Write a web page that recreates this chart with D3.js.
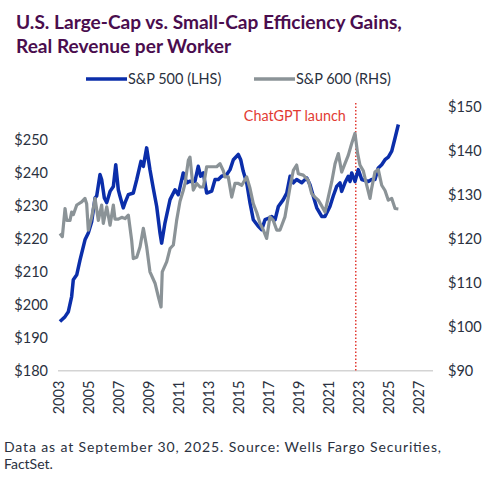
<!DOCTYPE html>
<html><head><meta charset="utf-8">
<script src="https://cdn.jsdelivr.net/npm/d3@7"></script>
<style>body{margin:0;background:#fff}svg{display:block}text{font-family:Lato,"Open Sans",sans-serif}</style>
</head><body>
<svg id="c" width="487" height="480"></svg>
<script>
const titleLines = ["U.S. Large-Cap vs. Small-Cap Efficiency Gains,", "Real Revenue per Worker"];
const seriesNames = ["S&P 500 (LHS)", "S&P 600 (RHS)"];
const footLines = ["Data as at September 30, 2025. Source: Wells Fargo Securities,", "FactSet."];
const eventLabel = "ChatGPT launch";
const eventDate = 2022.85;
const xTicks = [2003,2005,2007,2009,2011,2013,2015,2017,2019,2021,2023,2025,2027];
const leftTicks = [180,190,200,210,220,230,240,250];
const rightTicks = [90,100,110,120,130,140,150];

const sp500Dates = [2003.13,2003.47,2003.69,2003.91,2004.02,2004.25,2004.47,2004.8,2005.02,2005.25,2005.47,2005.58,2005.8,2005.91,2006.09,2006.25,2006.47,2006.69,2006.85,2007.02,2007.13,2007.35,2007.47,2007.69,2008.02,2008.25,2008.53,2008.69,2008.91,2009.13,2009.35,2009.58,2009.8,2009.91,2010.13,2010.47,2010.8,2011.02,2011.35,2011.58,2011.8,2012.13,2012.35,2012.51,2012.69,2012.91,2013.25,2013.47,2013.69,2013.91,2014.25,2014.47,2014.69,2015.02,2015.18,2015.35,2015.58,2015.8,2016.02,2016.35,2016.58,2016.8,2017.02,2017.25,2017.47,2017.69,2018.02,2018.25,2018.47,2018.69,2018.91,2019.25,2019.58,2019.8,2020.02,2020.25,2020.58,2020.8,2021.13,2021.35,2021.58,2021.8,2021.91,2022.13,2022.35,2022.47,2022.58,2022.8,2023.02,2023.25,2023.69,2023.91,2024.13,2024.35,2024.58,2024.8,2025.02,2025.25,2025.47,2025.69];
const sp500Values = [194.9,196.4,197.9,202.5,207.6,209.1,213.6,219.7,221.8,225.3,232.4,233,239.5,238,232.4,231,234.4,235.9,242.5,234.9,233,229.4,231,233.4,233.9,238,243.5,242,247.6,241,235.4,229.8,221.8,218.7,224.8,231.9,234.9,233.4,240,237,237.5,237.4,242,239,240,233.9,234.5,238,238,239,239.5,241,244,245.6,244,240.5,237,230.9,225.8,223.8,222.8,225.8,226.2,226.8,225.8,229.8,231.9,233.9,239,237,238,237,238.5,236.4,232.9,229.4,226.8,226.8,229.8,233,235.9,237,234.4,237,239,237.4,240,237.4,241,238,237.4,238,238,241.5,242.5,244,244.8,246.6,250.6,254.7];

const sp600Dates = [2003.13,2003.29,2003.47,2003.58,2003.8,2003.91,2004.02,2004.25,2004.58,2004.8,2004.91,2005.02,2005.25,2005.47,2005.69,2005.91,2006.02,2006.25,2006.47,2006.69,2006.8,2007.02,2007.25,2007.47,2007.69,2007.91,2008.02,2008.25,2008.47,2008.69,2008.91,2009.13,2009.47,2009.69,2009.87,2009.95,2010.25,2010.47,2010.69,2010.91,2011.13,2011.35,2011.47,2011.69,2011.8,2012.02,2012.25,2012.47,2012.69,2012.91,2013.25,2013.58,2013.8,2014.02,2014.13,2014.35,2014.58,2014.8,2015.02,2015.25,2015.58,2015.8,2016.02,2016.25,2016.47,2016.69,2016.91,2017.13,2017.35,2017.58,2017.8,2018.13,2018.47,2018.69,2018.91,2019.02,2019.35,2019.69,2019.91,2020.13,2020.35,2020.58,2020.8,2021.02,2021.25,2021.47,2021.69,2021.91,2022.13,2022.35,2022.58,2022.8,2022.97,2023.13,2023.35,2023.58,2023.8,2023.91,2024.13,2024.35,2024.58,2024.8,2025.02,2025.25,2025.47,2025.69];
const sp600Values = [121.2,120.5,126.9,124.2,124.2,126.1,125.5,127.7,128.4,129.2,128,122,125,129.2,124.2,127.7,123.5,127.3,123.1,127.7,124.5,124.5,124.9,124.6,125.4,119.7,115.5,115.8,118.2,122.4,118.2,112.5,109.9,106.8,104.5,112.5,114.8,117.8,118.6,124.2,128.5,131,132.6,137.9,138.6,131.1,132.6,131.8,131.8,136.4,136.4,136.4,137.1,135.5,134.1,134.1,129.5,132.6,132.6,132.2,134.1,131.5,128,126,123.5,122,120.1,125,124.2,122,122,125,131.8,135.6,136.8,134.8,134.5,133.3,130.3,129.5,128.8,127.5,126.1,129.5,133,137.1,139.4,135.2,137.1,139,141.7,144,139.5,136.8,135.5,132.2,129.2,131.5,135.2,135.8,132.2,131,128.8,129.2,126.9,126.8];

const colors = {blue:"#0b2eaa", gray:"#8b9397", title:"#4a0d4e", text:"#2a3140", red:"#e23b33", axis:"#d4d4d4"};

const svg = d3.select("#c");
const x = d3.scaleLinear().domain([2003, 2028]).range([58, 433]);
const yL = d3.scaleLinear().domain([180, 260]).range([370.7, 107]);
const yR = d3.scaleLinear().domain([90, 150]).range([370.7, 107]);

function fit(sel, w){ const n=sel.node(); const cur=n.getComputedTextLength(); const fs=parseFloat(sel.attr("font-size")); sel.attr("font-size", fs*w/cur); }

// Title
const titleSel = titleLines.map((t,i)=> svg.append("text").attr("x",16).attr("y",29+i*24).attr("font-size",19).attr("font-weight",700).attr("fill",colors.title).text(t));
fit(titleSel[0], 386);
titleSel[1].attr("font-size", titleSel[0].attr("font-size"));

// Legend
const leg = [{n:seriesNames[0], c:colors.blue, x0:86}, {n:seriesNames[1], c:colors.gray, x0:254}];
leg.forEach(l=>{
  svg.append("line").attr("x1",l.x0).attr("x2",l.x0+41).attr("y1",79).attr("y2",79).attr("stroke",l.c).attr("stroke-width",3.5);
  svg.append("text").attr("x",l.x0+42).attr("y",84).attr("font-size",14.5).attr("fill",colors.text).text(l.n);
});

// Baseline
svg.append("line").attr("x1",58).attr("x2",433).attr("y1",yL(180)).attr("y2",yL(180)).attr("stroke",colors.axis).attr("stroke-width",1.5);

// Left axis
const gL = svg.append("g").attr("transform","translate(48,0)")
  .call(d3.axisLeft(yL).tickValues(leftTicks).tickSize(0).tickPadding(0).tickFormat(d=>"$"+d));
gL.select(".domain").remove();
gL.selectAll("text").attr("font-size",14.5).attr("fill",colors.text).attr("font-family","Lato");

// Right axis
const gR = svg.append("g").attr("transform","translate(448,0)")
  .call(d3.axisRight(yR).tickValues(rightTicks).tickSize(0).tickPadding(0).tickFormat(d=>"$"+d));
gR.select(".domain").remove();
gR.selectAll("text").attr("font-size",14.5).attr("fill",colors.text).attr("font-family","Lato");

// X axis
const gX = svg.append("g").attr("transform",`translate(0,${yL(180)})`)
  .call(d3.axisBottom(x).tickValues(xTicks).tickSize(0).tickPadding(0).tickFormat(d3.format("d")));
gX.select(".domain").remove();
gX.selectAll("text").attr("font-size",14.5).attr("fill",colors.text).attr("font-family","Lato")
  .attr("text-anchor","end").attr("transform","rotate(-90)").attr("x",-10).attr("y",0).attr("dy","0.35em");

// Event line
svg.append("line").attr("x1",x(eventDate)).attr("x2",x(eventDate)).attr("y1",103).attr("y2",yL(180))
  .attr("stroke",colors.red).attr("stroke-width",1.5).attr("stroke-dasharray","1.5,2");
const ev = svg.append("text").attr("x",x(eventDate)-10).attr("y",121).attr("text-anchor","end").attr("font-size",14).attr("fill",colors.red).text(eventLabel);
fit(ev, 102);

// Lines
const lineL = d3.line().x(d=>x(d[0])).y(d=>yL(d[1]));
const lineR = d3.line().x(d=>x(d[0])).y(d=>yR(d[1]));
svg.append("path").datum(d3.zip(sp500Dates, sp500Values)).attr("d",lineL).attr("fill","none").attr("stroke",colors.blue).attr("stroke-width",3.5).attr("stroke-linejoin","round");
svg.append("path").datum(d3.zip(sp600Dates, sp600Values)).attr("d",lineR).attr("fill","none").attr("stroke",colors.gray).attr("stroke-width",3.2).attr("stroke-linejoin","round");

// Footer
footLines.forEach((t,i)=>{
  const s = svg.append("text").attr("x",4).attr("y",452+i*17).attr("font-size",14).attr("fill",colors.text).text(t);
  if(i===0) s.attr("textLength",437).attr("lengthAdjust","spacing");
});
</script>
</body></html>
